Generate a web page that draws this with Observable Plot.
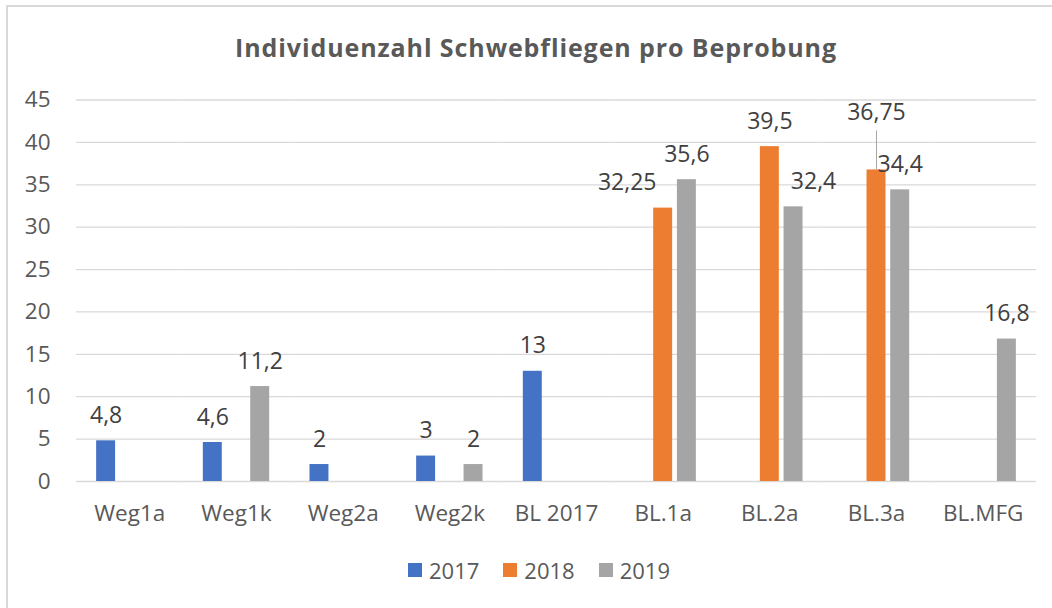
<!DOCTYPE html>
<html><head><meta charset="utf-8">
<script src="https://cdn.jsdelivr.net/npm/d3@7"></script>
<script src="https://cdn.jsdelivr.net/npm/@observablehq/plot@0.6"></script>
<style>
body{margin:0;background:#fff;}
#chart{position:relative;width:1052px;height:608px;overflow:hidden;font-family:"Open Sans",Lato,sans-serif;background:#fff;}
#frame{position:absolute;left:6px;top:5px;width:1100px;height:700px;border-left:2px solid #d9d9d9;border-top:2px solid #d9d9d9;}
#title{position:absolute;left:20px;width:1032px;top:31px;text-align:center;font-weight:bold;font-size:25px;letter-spacing:0.9px;line-height:32px;color:#595959;}
#plot{position:absolute;left:0;top:0;}
#legend{position:absolute;left:26px;width:1026px;top:555px;display:flex;justify-content:center;gap:24px;font-size:22px;line-height:30px;color:#595959;}
#legend .item{display:flex;align-items:center;gap:7px;}
#legend .sw{width:14px;height:14px;display:inline-block;}
</style></head>
<body><div id="chart"><div id="frame"></div><div id="title"></div><div id="plot"></div><div id="legend"></div></div>
<script>
const titleText = "Individuenzahl Schwebfliegen pro Beprobung";
const categories = ["Weg1a","Weg1k","Weg2a","Weg2k","BL 2017","BL.1a","BL.2a","BL.3a","BL.MFG"];
const years = ["2017","2018","2019"];
const colors = ["#4472C4","#ED7D31","#A5A5A5"];
const values2017 = [4.8, 4.6, 2, 3, 13, null, null, null, null];
const values2018 = [null, null, null, null, null, 32.25, 39.5, 36.75, null];
const values2019 = [null, 11.2, null, 2, null, 35.6, 32.4, 34.4, 16.8];
const yTicks = [0,5,10,15,20,25,30,35,40,45];
// labels that the source chart nudged to avoid overlaps (pixel nudges = styling)
const labelNudges = [
  {cat: "BL.1a", year: "2018", dx: -36, dy: 0, leader: false},
  {cat: "BL.2a", year: "2019", dx: 20, dy: 0, leader: false},
  {cat: "BL.3a", year: "2018", dx: 0, dy: -32, leader: true}
];

const series = [values2017, values2018, values2019];
const rows = [];
series.forEach((vals, s) => vals.forEach((v, i) => {
  if (v != null) rows.push({cat: categories[i], year: years[s], value: v, label: String(v).replace(".", ",")});
}));
const nudgeOf = d => labelNudges.find(n => n.cat === d.cat && n.year === d.year);
const plainRows = rows.filter(d => !nudgeOf(d));

document.getElementById("title").textContent = titleText;

const font = '"Open Sans",Lato,sans-serif';
const labelGap = 18;
const labelMarks = [Plot.text(plainRows, {fx: "cat", x: "year", y: "value", text: "label", lineAnchor: "bottom", dy: -labelGap, fill: "#404040", fontSize: 23})];
labelNudges.forEach(n => {
  const sel = rows.filter(d => d.cat === n.cat && d.year === n.year);
  if (n.leader) labelMarks.push(Plot.ruleX(sel, {fx: "cat", x: "year", y1: "value", y2: "value", insetTop: -(labelGap - n.dy - 11), stroke: "#a6a6a6", strokeWidth: 1}));
  labelMarks.push(Plot.text(sel, {fx: "cat", x: "year", y: "value", text: "label", lineAnchor: "bottom", dx: n.dx, dy: -labelGap + n.dy, fill: "#404040", fontSize: 23}));
});

const plot = Plot.plot({
  width: 1052, height: 540,
  marginLeft: 76, marginRight: 16, marginTop: 99.5, marginBottom: 59,
  style: {fontFamily: font, fontSize: "22.5px", color: "#595959", background: "transparent", overflow: "visible"},
  fx: {domain: categories, padding: 0, round: false, label: null, tickSize: 0, tickPadding: 24},
  x: {domain: years, paddingInner: 0.2, paddingOuter: 0.85, round: false, axis: null},
  y: {domain: [0, 45], ticks: yTicks, tickSize: 0, tickPadding: 26, label: null},
  color: {domain: years, range: colors},
  marks: [
    Plot.ruleY(yTicks, {stroke: "#d9d9d9", strokeWidth: 1.3}),
    Plot.barY(rows, {fx: "cat", x: "year", y: "value", fill: "year"}),
    ...labelMarks
  ]
});
document.getElementById("plot").appendChild(plot);

const legend = document.getElementById("legend");
years.forEach((y, i) => {
  const it = document.createElement("div"); it.className = "item";
  const sw = document.createElement("span"); sw.className = "sw"; sw.style.background = colors[i];
  const tx = document.createElement("span"); tx.textContent = y;
  it.appendChild(sw); it.appendChild(tx); legend.appendChild(it);
});
</script></body></html>
